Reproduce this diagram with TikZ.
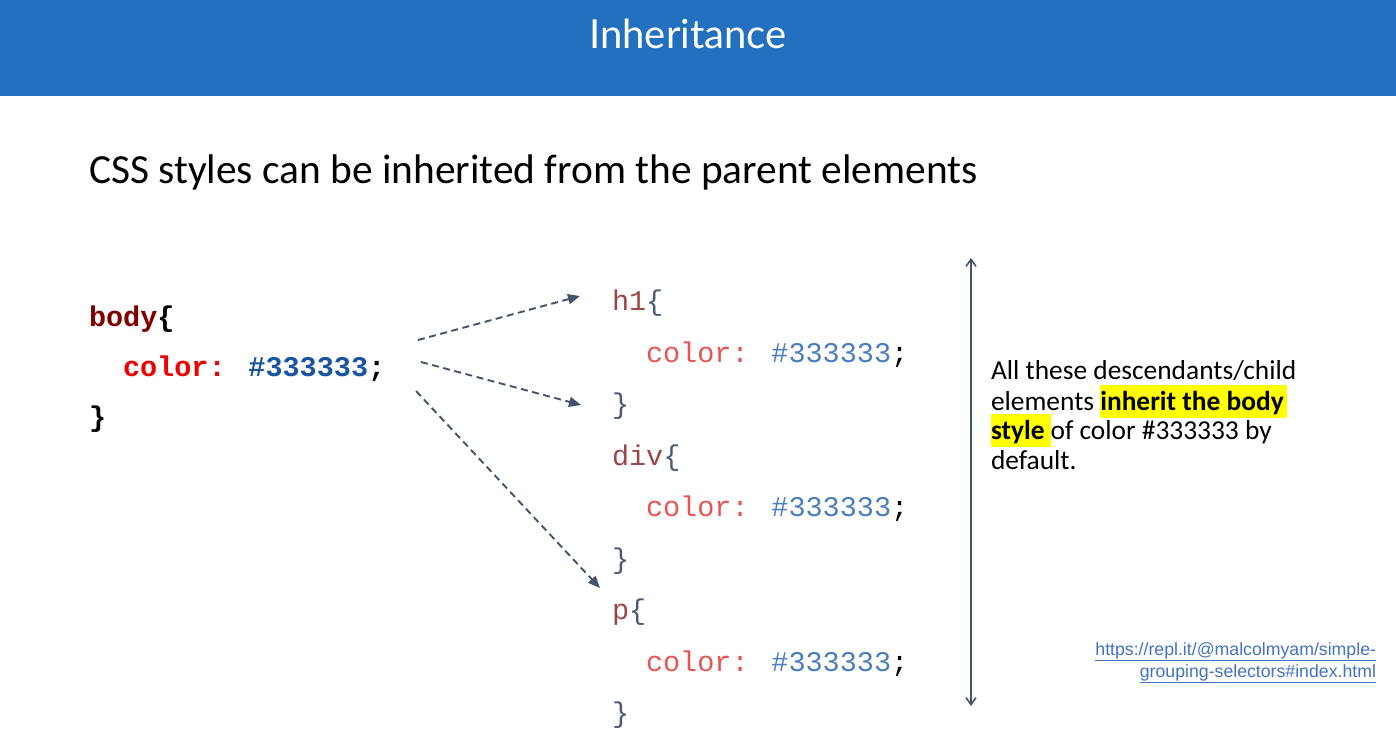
\documentclass[tikz,border=0pt]{standalone}
\usepackage{fontspec}
\setmainfont{Carlito}
\newfontfamily\titlefont{Lato}
\newfontfamily\codefont{Liberation Mono}
\newfontfamily\linkfont{Liberation Sans}
\usetikzlibrary{arrows.meta}
\definecolor{hdrblue}{HTML}{2370BE}
\definecolor{arrowgray}{HTML}{44546A}
\definecolor{bodyred}{HTML}{800000}
\definecolor{propred}{HTML}{EE0000}
\definecolor{valblue}{HTML}{1A55A0}
\definecolor{selbrown}{HTML}{9C4646}
\definecolor{lightred}{HTML}{E85454}
\definecolor{lightblue}{HTML}{4A7EBD}
\definecolor{bracegray}{HTML}{4A5A78}
\definecolor{linkblue}{HTML}{4472C4}
\definecolor{hlyellow}{HTML}{FFFF00}
\newcommand\myhl[1]{{\setlength\fboxsep{0pt}\colorbox{hlyellow}{\rule[-8pt]{0pt}{33pt}#1}}}
\tikzset{
  txt/.style={inner sep=0pt, outer sep=0pt, anchor=base west},
  boldcode/.style={txt, font=\codefont\bfseries\fontsize{28.5}{30}\selectfont},
  lightcode/.style={txt, font=\codefont\fontsize{28.5}{30}\selectfont},
  note/.style={txt, font=\fontsize{27.4}{30}\selectfont},
  linktxt/.style={inner sep=0pt, outer sep=0pt, anchor=base east, text=linkblue, font=\linkfont\fontsize{17.7}{20}\selectfont},
  dasharrow/.style={draw=arrowgray, line width=1.9pt, dash pattern=on 7pt off 4.5pt, -{Triangle[length=12pt,width=10pt]}},
  spanarrow/.style={draw=arrowgray, line width=1.6pt, {Straight Barb[length=7pt,width=10pt]}-{Straight Barb[length=7pt,width=10pt]}}
}
\begin{document}
\begin{tikzpicture}[x=1pt,y=-1pt]
\useasboundingbox (0,0) rectangle (1396,732);
\fill[white] (0,0) rectangle (1396,732);
% header
\fill[hdrblue] (0,0) rectangle (1396,96);
\node[inner sep=0pt, anchor=base, text=white, font=\titlefont\fontsize{40}{44}\selectfont] (title) at (688,48) {Inheritance};
\node[txt, font=\fontsize{41.4}{46}\selectfont] (subtitle) at (89,183) {CSS styles can be inherited from the parent elements};
% body rule
\node[boldcode] (b1) at (89,326) {\textcolor{bodyred}{body}\textcolor{black}{\{}};
\node[boldcode] (b2) at (123,376) {\textcolor{propred}{color:} \textcolor{valblue}{\#333333}\textcolor{black}{;}};
\node[boldcode] (b3) at (89,426) {\textcolor{black}{\}}};
% descendant rules
\node[lightcode] (h1a) at (612,310.7) {\textcolor{selbrown}{h1}\textcolor{bracegray}{\{}};
\node[lightcode] (h1b) at (646,362.2) {\textcolor{lightred}{color:} \textcolor{lightblue}{\#333333}\textcolor{black}{;}};
\node[lightcode] (h1c) at (612,413.7) {\textcolor{bracegray}{\}}};
\node[lightcode] (dva) at (612,465.2) {\textcolor{selbrown}{div}\textcolor{bracegray}{\{}};
\node[lightcode] (dvb) at (646,516.7) {\textcolor{lightred}{color:} \textcolor{lightblue}{\#333333}\textcolor{black}{;}};
\node[lightcode] (dvc) at (612,568.2) {\textcolor{bracegray}{\}}};
\node[lightcode] (pa) at (612,619.7) {\textcolor{selbrown}{p}\textcolor{bracegray}{\{}};
\node[lightcode] (pb) at (646,671.2) {\textcolor{lightred}{color:} \textcolor{lightblue}{\#333333}\textcolor{black}{;}};
\node[lightcode] (pc) at (612,722.7) {\textcolor{bracegray}{\}}};
% arrows
\coordinate (s1) at (418,340);
\coordinate (e1) at (580,296);
\coordinate (s2) at (421,362);
\coordinate (e2) at (581,405);
\coordinate (s3) at (416,391);
\coordinate (e3) at (600,588);
\draw[dasharrow] (s1) -- (e1);
\draw[dasharrow] (s2) -- (e2);
\draw[dasharrow] (s3) -- (e3);
\coordinate (vt) at (971,258);
\coordinate (vb) at (971,706);
\draw[spanarrow] (vt) -- (vb);
% note
\node[note] (n1) at (991,379.7) {All these descendants/child};
\node[note] (n2) at (991,410) {elements \myhl{\textbf{inherit the body}\hspace{3pt}}};
\node[note] (n3) at (991,439) {\myhl{\textbf{style}\hspace{6pt}}of color \#333333 by};
\node[note] (n4) at (991,469) {default.};
% link
\node[linktxt] (l1) at (1376,655) {\underline{https://repl.it/@malcolmyam/simple-}};
\node[linktxt] (l2) at (1376,677) {\underline{grouping-selectors\#index.html}};
\end{tikzpicture}
\end{document}
